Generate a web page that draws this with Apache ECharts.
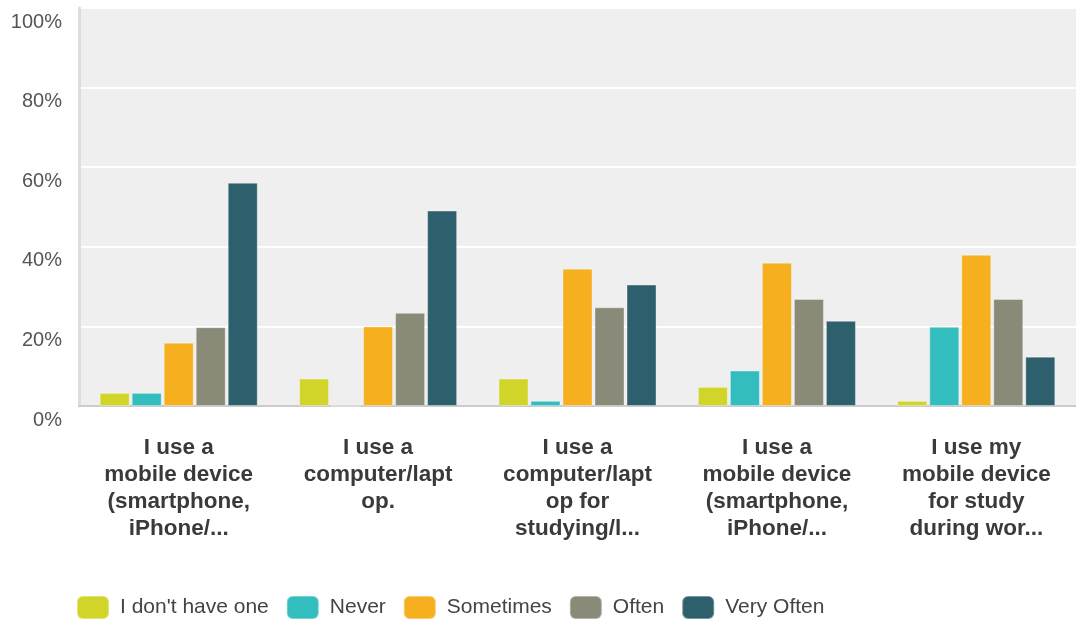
<!DOCTYPE html>
<html>
<head>
<meta charset="utf-8">
<script src="https://cdn.jsdelivr.net/npm/echarts@6/dist/echarts.min.js"></script>
<style>
  html, body { margin: 0; padding: 0; background: #ffffff; }
  #chart { width: 1076px; height: 624px; }
</style>
</head>
<body>
<div id="chart"></div>
<script>
// Survey statements (axis labels, wrapped as displayed)
const categories = [
  'I use a\nmobile device\n(smartphone,\niPhone/...',
  'I use a\ncomputer/lapt\nop.',
  'I use a\ncomputer/lapt\nop for\nstudying/l...',
  'I use a\nmobile device\n(smartphone,\niPhone/...',
  'I use my\nmobile device\nfor study\nduring wor...'
];

// Share of respondents per answer (%)
const dontHaveOne = [3.3, 6.9, 6.9, 4.8, 1.3];
const never       = [3.3, 0,   1.3, 8.9, 19.9];
const sometimes   = [15.9, 20.0, 34.5, 36.0, 38.0];
const often       = [19.8, 23.4, 24.8, 26.9, 26.9];
const veryOften   = [56.1, 49.1, 30.5, 21.4, 12.4];

const seriesNames = ['I don\'t have one', 'Never', 'Sometimes', 'Often', 'Very Often'];
const seriesData  = [dontHaveOne, never, sometimes, often, veryOften];
const colors      = ['#d1d52a', '#33bdbe', '#f5af1f', '#8a8a78', '#2e5f6c'];

const yTicks = { min: 0, max: 100, interval: 20 };

const chart = echarts.init(document.getElementById('chart'), null, { renderer: 'canvas' });

chart.setOption({
  animation: false,
  color: colors,
  grid: {
    left: 79, top: 8, width: 1000, height: 398,
    show: true, backgroundColor: '#efefef', borderWidth: 0
  },
  legend: {
    left: 76, top: 595, padding: 0,
    itemWidth: 32, itemHeight: 23, itemGap: 17,
    icon: 'roundRect',
    textStyle: {
      fontFamily: "'Liberation Sans', Arial, sans-serif",
      fontSize: 21, color: '#444', padding: [0, 0, 0, 6]
    },
    data: seriesNames
  },
  xAxis: {
    type: 'category',
    data: categories,
    axisLine: { show: true, lineStyle: { color: '#cccccc', width: 2 } },
    axisTick: { show: false },
    axisLabel: {
      interval: 0, margin: 28,
      fontFamily: "'Liberation Sans', Arial, sans-serif",
      fontSize: 22.5, fontWeight: 'bold', color: '#3a3a3a', lineHeight: 27,
      align: 'center', verticalAlign: 'top'
    },
    splitLine: { show: false }
  },
  yAxis: {
    type: 'value',
    min: yTicks.min, max: yTicks.max, interval: yTicks.interval,
    axisLine: { show: true, lineStyle: { color: '#dddddd', width: 3 } },
    axisTick: { show: false },
    axisLabel: {
      formatter: '{value}%', margin: 17,
      fontFamily: "'Liberation Sans', Arial, sans-serif",
      fontSize: 20, color: '#555',
      verticalAlign: 'top', padding: [4, 0, 0, 0]
    },
    splitLine: { show: true, lineStyle: { color: '#ffffff', width: 2 } }
  },
  series: seriesNames.map((name, i) => ({
    name: name,
    type: 'bar',
    data: seriesData[i],
    barWidth: 30,
    barGap: '6.7%',
    itemStyle: { borderColor: 'rgba(255,255,255,0.35)', borderWidth: 1 }
  }))
});
</script>
</body>
</html>
